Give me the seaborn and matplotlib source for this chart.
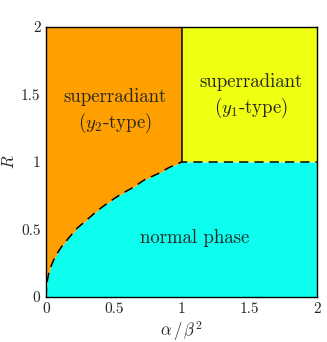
import seaborn as sns
import matplotlib.pyplot as plt
import numpy as np
import pandas as pd

# phase boundary
alpha_b = [0, 0.005, 0.015, 0.03, 0.05, 0.08, 0.12, 0.17, 0.23, 0.3,
           0.38, 0.46, 0.55, 0.64, 0.73, 0.82, 0.91, 1.0]
R_b = [0, 0.09, 0.15, 0.21, 0.26, 0.32, 0.38, 0.44, 0.51, 0.57,
       0.64, 0.70, 0.76, 0.81, 0.87, 0.91, 0.96, 1.0]
xticks = [0, 0.5, 1, 1.5, 2]
yticks = [0, 0.5, 1, 1.5, 2]
tick_labels = ["0", "0.5", "1", "1.5", "2"]

c_orange = "#ffa000"
c_yellow = "#eeff11"
c_cyan = "#0cffee"

sns.set_style("white")
plt.rcParams['font.family'] = ['cmr10', 'DejaVu Serif']
plt.rcParams['mathtext.fontset'] = 'cm'

fig = plt.figure(figsize=(3.27, 3.42), dpi=100)
ax = fig.add_axes([46 / 327, 45 / 342, 271 / 327, 270 / 342])

bx = np.array(alpha_b + [2.0])
by = np.array(R_b + [1.0])
ax.fill_between(bx, 0, by, color=c_cyan, lw=0)
ax.fill_between(bx, by, 2, where=bx <= 1.0, color=c_orange, lw=0)
ax.fill_between([1, 2], 1, 2, color=c_yellow, lw=0)

df = pd.DataFrame({"alpha": bx, "R": by})
sns.lineplot(data=df, x="alpha", y="R", color="black", lw=1.1,
             ax=ax, sort=False, estimator=None)
ax.lines[-1].set_linestyle((0, (6, 4)))
ax.plot([1, 1], [1, 2], color="black", lw=1.1)

fs = 13.5
ax.text(0.51, 1.48, "superradiant", ha="center", va="center", fontsize=fs)
ax.text(0.51, 1.29, r"($y_2$-type)", ha="center", va="center", fontsize=fs)
ax.text(1.51, 1.59, "superradiant", ha="center", va="center", fontsize=fs)
ax.text(1.51, 1.40, r"($y_1$-type)", ha="center", va="center", fontsize=fs)
ax.text(1.1, 0.44, "normal phase", ha="center", va="center", fontsize=fs)

ax.set_xlim(0, 2)
ax.set_ylim(0, 2)
ax.set_xticks(xticks)
ax.set_xticklabels(tick_labels, fontsize=11)
ax.set_yticks(yticks)
ax.set_yticklabels(tick_labels, fontsize=11)
ax.tick_params(length=0, pad=4)
ax.set_xlabel(r"$\alpha\,/\,\beta^2$", fontsize=12, labelpad=2)
ax.set_ylabel(r"$R$", fontsize=12, labelpad=3)
for s in ax.spines.values():
    s.set_color("black")
    s.set_linewidth(1.0)

fig.savefig("out.png", dpi=100)
